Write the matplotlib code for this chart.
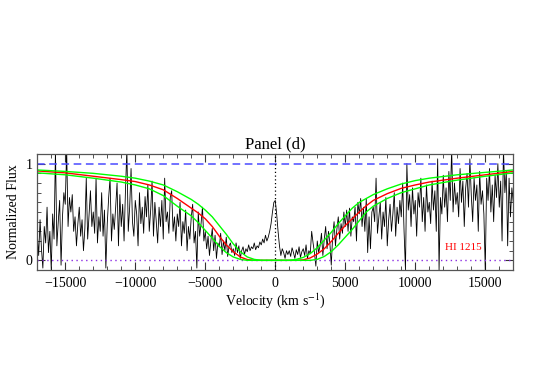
import numpy as np
import matplotlib
matplotlib.use("Agg")
import matplotlib.pyplot as plt
from matplotlib.ticker import MultipleLocator, FixedLocator

plt.rcParams['font.family'] = ['Liberation Serif', 'DejaVu Serif']
plt.rcParams['mathtext.fontset'] = 'stix'

# observed spectrum, one value per 100 km/s from -17000 to +17000
v_start = -17000
v_step = 100
flux = [
    0.28, 0.05, 0.42, 0.12, -0.08, 0.35, 0.18, 0.55, 0.08, 0.30, -0.10, 0.48, 0.22, 1.15, 0.15, 0.40, 0.62, -0.05, 0.45, 0.70,
    0.58, 1.15, 0.35, 0.65, 0.50, 0.68, 0.30, 0.45, 0.15, 0.38, 0.55, 0.25, 0.42, 0.10, 0.33, 0.85, 0.22, 0.48, 0.72, 0.35,
    0.50, 0.28, 0.85, 0.18, 0.45, 0.30, 0.70, 0.25, 0.52, -0.08, 0.38, 0.65, 0.85, 0.20, 0.48, 0.32, 0.55, 0.80, 0.15, 0.68,
    0.35, 0.58, 0.20, 0.72, 1.15, 0.30, 0.55, 0.95, 0.40, 0.25, 0.62, 0.48, 0.15, 0.70, 0.38, 0.55, 0.28, 0.66, 0.45, 0.78,
    0.30, 0.52, 0.82, 0.25, 0.60, 0.40, 0.18, 0.55, 0.35, 0.62, 0.22, 0.85, 0.40, 0.50, 0.28, 0.65, 0.72, 0.30, 0.45, 0.20,
    0.48, 0.35, 0.60, 0.15, 0.40, 0.28, 0.52, 0.10, 0.35, 0.22, 0.45, 0.58, 0.18, 0.30, -0.08, 0.50, 0.25, 0.38, 0.55, 0.20,
    0.30, 0.12, 0.25, 0.05, 0.20, 0.33, 0.10, 0.26, 0.02, 0.18, 0.14, 0.28, 0.06, 0.20, 0.10, 0.24, 0.04, 0.15, 0.18, 0.08,
    0.12, 0.05, 0.18, 0.08, 0.15, 0.02, 0.10, 0.14, 0.06, 0.12, 0.09, 0.16, 0.10, 0.14, 0.12, 0.18, 0.11, 0.15, 0.13, 0.19,
    0.16, 0.22, 0.18, 0.26, 0.20, 0.24, 0.30, 0.38, 0.50, 0.60, 0.62, 0.48, 0.30, 0.15, 0.05, 0.12, 0.08, 0.02, 0.10, 0.06,
    0.10, 0.04, 0.13, 0.08, 0.02, 0.11, 0.06, 0.14, 0.03, 0.09, 0.12, 0.05, 0.16, 0.02, 0.10, 0.07, 0.30, 0.18, 0.08, -0.06,
    0.20, 0.08, 0.15, 0.28, 0.05, 0.22, 0.35, 0.12, 0.30, 0.18, -0.05, 0.25, 0.40, 0.15, 0.32, 0.45, 0.22, 0.38, 0.28, 0.50,
    0.35, 0.52, 0.30, 0.54, 0.25, 0.45, 0.40, 0.55, 0.20, 0.60, 0.48, 0.64, 0.35, 0.55, 0.30, 0.64, 0.08, 0.45, 0.12, 0.50,
    0.55, 0.40, 0.85, 0.28, 0.45, 0.60, 0.22, 0.50, 0.35, 0.65, 0.15, 0.42, 0.58, 0.30, 0.48, 0.70, 0.25, 0.55, 0.38, 0.62,
    0.45, 0.80, 0.30, -0.10, 1.00, 0.52, 0.68, 0.35, 0.75, 0.48, 0.62, 0.25, 0.70, 0.55, 0.85, 0.40, 0.65, 0.30, 0.78, 0.50,
    0.60, 0.38, 0.82, 0.52, 0.72, 0.30, 1.05, -0.10, 0.65, 0.48, 0.88, 0.55, 0.75, 0.40, 0.92, 0.62, 1.15, 0.50, 0.80, 0.58,
    0.70, 0.45, 0.95, 0.60, 0.82, 0.35, 0.75, 0.90, 0.55, 1.05, 0.68, 0.40, 0.85, 0.62, 0.78, 0.30, 0.92, 0.58, 0.72, 0.48,
    -0.10, 0.85, 0.62, 0.95, 0.50, 0.78, 0.40, 0.88, 0.65, 1.00, 0.55, 0.82, 0.20, 1.15, 0.70, 0.92, 0.15, 0.85, 0.45, 0.75,
    0.60,
]
velocity = v_start + v_step * np.arange(len(flux))

# damped Lya model (red) and its uncertainty envelope (green)
model_v = [-17000, -15000, -13000, -11000, -10000, -9000, -8000, -7000, -6500, -6000,
           -5500, -5000, -4500, -4000, -3500, -3000, -2500, -2000, -1500, -1000,
           0,
           1000, 1500, 2000, 2500, 3000, 3500, 4000, 4500, 5000, 5500,
           6000, 6500, 7000, 8000, 9000, 10000, 11000, 13000, 15000, 17000]
model_best = [0.925, 0.905, 0.87, 0.835, 0.815, 0.78, 0.73, 0.64, 0.59, 0.54,
              0.49, 0.43, 0.35, 0.25, 0.16, 0.09, 0.035, 0.008, 0.0, 0.0,
              0.0,
              0.0, 0.0, 0.005, 0.025, 0.065, 0.12, 0.195, 0.28, 0.36, 0.43,
              0.50, 0.565, 0.62, 0.69, 0.745, 0.78, 0.81, 0.85, 0.885, 0.92]
model_hi = [0.935, 0.92, 0.90, 0.87, 0.85, 0.82, 0.78, 0.71, 0.67, 0.63,
            0.58, 0.52, 0.45, 0.36, 0.27, 0.17, 0.09, 0.035, 0.01, 0.0,
            0.0,
            0.0, 0.01, 0.03, 0.07, 0.13, 0.21, 0.29, 0.38, 0.46, 0.54,
            0.60, 0.64, 0.68, 0.74, 0.79, 0.825, 0.85, 0.885, 0.91, 0.935]
model_lo = [0.905, 0.885, 0.85, 0.81, 0.78, 0.74, 0.67, 0.56, 0.51, 0.46,
            0.39, 0.31, 0.23, 0.145, 0.08, 0.035, 0.01, 0.0, 0.0, 0.0,
            0.0,
            0.0, 0.0, 0.0, 0.0, 0.01, 0.04, 0.09, 0.16, 0.24, 0.32,
            0.41, 0.50, 0.56, 0.64, 0.70, 0.74, 0.78, 0.83, 0.87, 0.905]

fig = plt.figure(figsize=(5.4, 3.86), dpi=100)
ax = fig.add_axes([0.069, 0.3005, 0.8815, 0.3005])

ax.plot(velocity, flux, color='black', lw=0.6)
ax.axhline(1.0, color='#4a4aff', lw=1.1, ls=(0, (5, 3)))
ax.axhline(0.0, color='#8a2be2', lw=1.0, ls=(0, (1, 2.5)))
ax.axvline(0.0, color='black', lw=0.9, ls=(0, (1, 2)))
ax.plot(model_v, model_best, color='red', lw=1.0)
ax.plot(model_v, model_hi, color='#00ff00', lw=1.0)
ax.plot(model_v, model_lo, color='#00ff00', lw=1.0)

ax.text(12100, 0.11, 'HI 1215', color='red', fontsize=8)

ax.set_xlim(-17000, 17000)
ax.set_ylim(-0.1, 1.1)
ax.xaxis.set_major_locator(MultipleLocator(5000))
ax.xaxis.set_minor_locator(MultipleLocator(1000))
ax.yaxis.set_major_locator(FixedLocator([0, 1]))
ax.yaxis.set_minor_locator(MultipleLocator(0.1))
ax.tick_params(which='both', direction='in', top=True, right=True, labelsize=10, colors='#333333', labelcolor='black')
ax.tick_params(which='major', length=6, width=0.8)
ax.tick_params(which='minor', length=3, width=0.6)
ax.tick_params(axis='x', pad=5)
for s in ax.spines.values():
    s.set_color('#555555')
    s.set_linewidth(0.9)

ax.set_title('Panel (d)', fontsize=12, pad=4)
ax.set_xlabel('Velocity (km s$^{-1}$)', fontsize=10, labelpad=1)
ax.set_ylabel('Normalized Flux', fontsize=10, labelpad=4)

fig.savefig('out.png', dpi=100)
